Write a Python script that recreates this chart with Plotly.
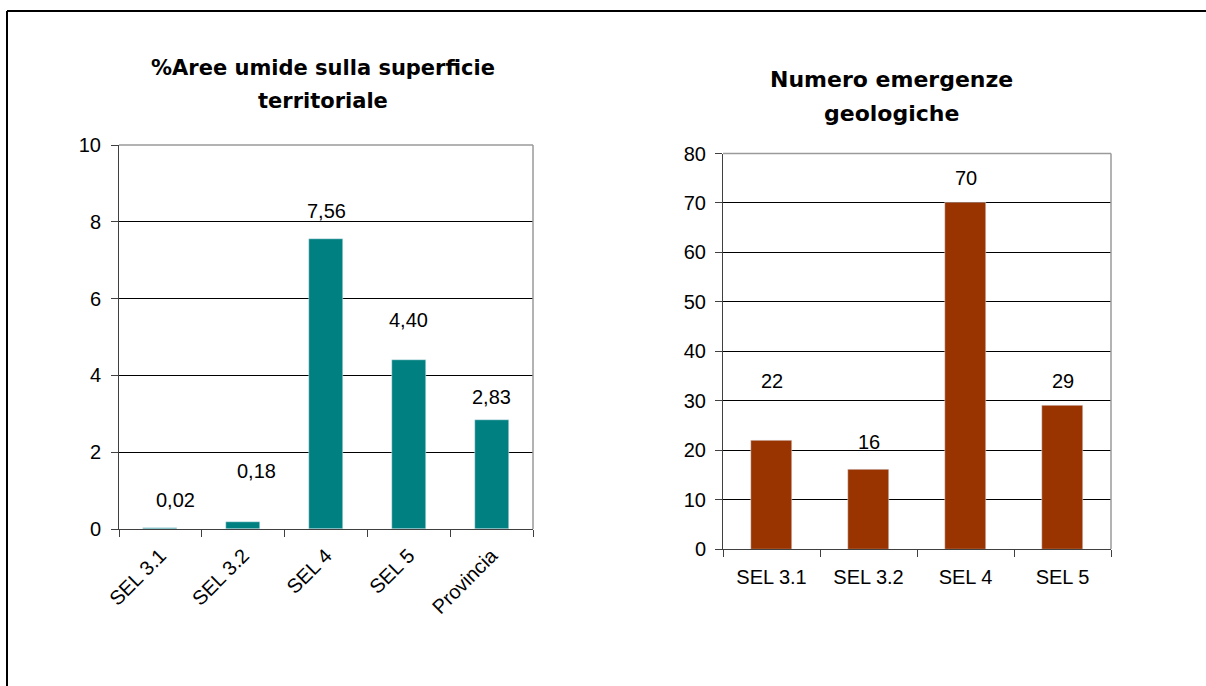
import plotly.graph_objects as go

# ---- data ----
cat_left = ["SEL 3.1", "SEL 3.2", "SEL 4", "SEL 5", "Provincia"]
val_left = [0.02, 0.18, 7.56, 4.40, 2.83]
lab_left = ["0,02", "0,18", "7,56", "4,40", "2,83"]

cat_right = ["SEL 3.1", "SEL 3.2", "SEL 4", "SEL 5"]
val_right = [22, 16, 70, 29]
lab_right = ["22", "16", "70", "29"]

title_left = ["%Aree umide sulla superficie", "territoriale"]
title_right = ["Numero emergenze", "geologiche"]

# ---- style ----
FONT = "Liberation Sans, Arial, sans-serif"
TFONT = "DejaVu Sans, sans-serif"
TEAL = "#008080"
BROWN = "#993300"
W, H = 1206, 686
# label offsets (style, pixels)
yshift_left = [28, 51, 28, 40, 23]
xshift_left = [15, 13, 0, 0, 0]
yshift_right = [59, 28, 25, 25]

fig = go.Figure()
fig.add_trace(go.Bar(x=cat_left, y=val_left, marker_color=TEAL, width=0.41,
                     xaxis="x", yaxis="y", showlegend=False, hoverinfo="x+y"))
fig.add_trace(go.Bar(x=cat_right, y=val_right, marker_color=BROWN, width=0.42,
                     xaxis="x2", yaxis="y2", showlegend=False, hoverinfo="x+y"))

lab_font = dict(family=FONT, size=20, color="black")
ann = []
for c, v, t, ys, xs in zip(cat_left, val_left, lab_left, yshift_left, xshift_left):
    ann.append(dict(x=c, y=v, xref="x", yref="y", text=t, showarrow=False,
                    yanchor="middle", yshift=ys, xshift=xs, font=lab_font))
for c, v, t, ys in zip(cat_right, val_right, lab_right, yshift_right):
    ann.append(dict(x=c, y=v, xref="x2", yref="y2", text=t, showarrow=False,
                    yanchor="middle", yshift=ys, font=lab_font))

title_font = dict(family=TFONT, size=21, color="black", weight="bold")
for line, yy in zip(title_left, [68, 101]):
    ann.append(dict(x=323 / W, y=1 - yy / H, xref="paper", yref="paper", text=line,
                    showarrow=False, font=title_font, xanchor="center", yanchor="middle"))
title_font2 = dict(family=TFONT, size=22, color="black", weight="bold")
for line, yy in zip(title_right, [80, 113]):
    ann.append(dict(x=891 / W, y=1 - yy / H, xref="paper", yref="paper", text=line,
                    showarrow=False, font=title_font2, xanchor="center", yanchor="middle"))

DARK = "#404040"
GRAY = "#9a9a9a"
axis_common = dict(showline=True, linecolor=DARK, linewidth=1, automargin=False,
                   ticks="outside", ticklen=7, tickcolor=DARK,
                   tickfont=dict(family=FONT, size=20, color="black"))

fig.update_layout(
    width=W, height=H,
    margin=dict(l=0, r=0, t=0, b=0, pad=0),
    autosize=False,
    paper_bgcolor="white", plot_bgcolor="white",
    annotations=ann,
    bargap=0,
    xaxis=dict(domain=[119 / W, 533 / W], anchor="y", type="category",
               tickson="boundaries", tickangle=-45, showgrid=False,
               ticklabelstandoff=6, **axis_common),
    yaxis=dict(domain=[1 - 529 / H, 1 - 145 / H], anchor="x", range=[0, 10],
               tickvals=[0, 2, 4, 6, 8, 10], showgrid=True, gridcolor="black",
               gridwidth=1, zeroline=False, ticklabelstandoff=6, **axis_common),
    xaxis2=dict(domain=[723 / W, 1111 / W], anchor="y2", type="category",
                tickson="boundaries", showgrid=False, ticklabelstandoff=10, **axis_common),
    yaxis2=dict(domain=[1 - 549 / H, 1 - 153.5 / H], anchor="x2", range=[0, 80],
                tickvals=[0, 10, 20, 30, 40, 50, 60, 70, 80], showgrid=True,
                gridcolor="black", gridwidth=1, zeroline=False, ticklabelstandoff=5,
                **axis_common),
    shapes=[
        # outer frame
        dict(type="line", xref="paper", yref="paper", x0=7 / W, x1=1, y0=1 - 11 / H, y1=1 - 11 / H,
             line=dict(color="black", width=2)),
        dict(type="line", xref="paper", yref="paper", x0=7 / W, x1=7 / W, y0=0, y1=1 - 11 / H,
             line=dict(color="black", width=2)),
        # gray top/right plot borders
        dict(type="line", xref="x domain", yref="y domain", x0=0, x1=1, y0=1, y1=1,
             line=dict(color=GRAY, width=1.5)),
        dict(type="line", xref="x domain", yref="y domain", x0=1, x1=1, y0=0, y1=1,
             line=dict(color=GRAY, width=1.5)),
        dict(type="line", xref="x2 domain", yref="y2 domain", x0=0, x1=1, y0=1, y1=1,
             line=dict(color=GRAY, width=1.5)),
        dict(type="line", xref="x2 domain", yref="y2 domain", x0=1, x1=1, y0=0, y1=1,
             line=dict(color=GRAY, width=1.5)),
    ],
)

fig.write_html("out.html", config={"displayModeBar": False},
               post_script="document.body.style.margin='0';document.body.style.overflow='hidden';")
